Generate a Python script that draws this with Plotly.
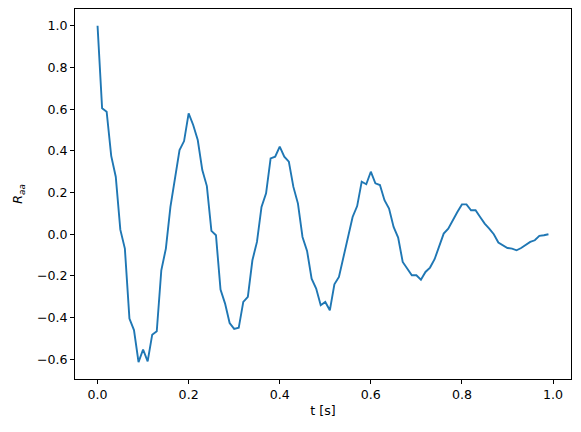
import plotly.graph_objects as go

lag_s = [round(i * 0.01, 2) for i in range(100)]
r_aa = [
    1.0, 0.604, 0.588, 0.376, 0.276, 0.022, -0.069, -0.405, -0.46, -0.614,
    -0.553, -0.61, -0.482, -0.466, -0.173, -0.069, 0.131, 0.268, 0.404, 0.447,
    0.58, 0.524, 0.452, 0.308, 0.231, 0.016, -0.005, -0.266, -0.333, -0.426,
    -0.454, -0.449, -0.325, -0.301, -0.125, -0.037, 0.131, 0.196, 0.364, 0.372,
    0.42, 0.372, 0.348, 0.227, 0.147, -0.013, -0.08, -0.213, -0.261, -0.341,
    -0.325, -0.365, -0.24, -0.205, -0.109, -0.013, 0.083, 0.135, 0.252, 0.24,
    0.3, 0.244, 0.236, 0.163, 0.123, 0.035, -0.016, -0.133, -0.165, -0.197,
    -0.197, -0.218, -0.181, -0.16, -0.12, -0.061, 0.003, 0.027, 0.07, 0.107,
    0.143, 0.143, 0.115, 0.115, 0.083, 0.051, 0.027, 0.0, -0.04, -0.053,
    -0.066, -0.069, -0.077, -0.066, -0.053, -0.037, -0.029, -0.008, -0.005, 0.0,
]
x_ticks = [0.0, 0.2, 0.4, 0.6, 0.8, 1.0]
y_ticks = [-0.6, -0.4, -0.2, 0.0, 0.2, 0.4, 0.6, 0.8, 1.0]

fig = go.Figure(go.Scatter(x=lag_s, y=r_aa, mode="lines",
                           line=dict(color="#1f77b4", width=1.9),
                           showlegend=False, hoverinfo="x+y"))

ymin, ymax = min(r_aa), max(r_aa)
ym = (ymax - ymin) * 0.05
xm = (lag_s[-1] - lag_s[0]) * 0.05

font = dict(family="DejaVu Sans", size=12.6, color="black")
axis_common = dict(showline=True, linecolor="black", linewidth=1, mirror=True,
                   ticks="outside", ticklen=4, tickwidth=1, tickcolor="black",
                   showgrid=False, zeroline=False, tickfont=font, automargin=False)

fig.update_layout(
    width=581, height=432,
    margin=dict(l=75, r=10, t=9, b=53),
    paper_bgcolor="white", plot_bgcolor="white",
    font=font,
    xaxis=dict(range=[lag_s[0] - xm, lag_s[-1] + xm], tickvals=x_ticks,
               tickformat=".1f", title=dict(text="t [s]", font=font, standoff=5),
               **axis_common),
    yaxis=dict(range=[ymin - ym, ymax + ym], tickvals=y_ticks,
               tickformat=".1f", title=dict(text="<i>R</i><sub><i>aa</i></sub>", font=font, standoff=11),
               **axis_common),
)

fig.write_html("out.html", config={"displayModeBar": False},
               post_script="document.body.style.margin='0';document.body.style.overflow='hidden';")
